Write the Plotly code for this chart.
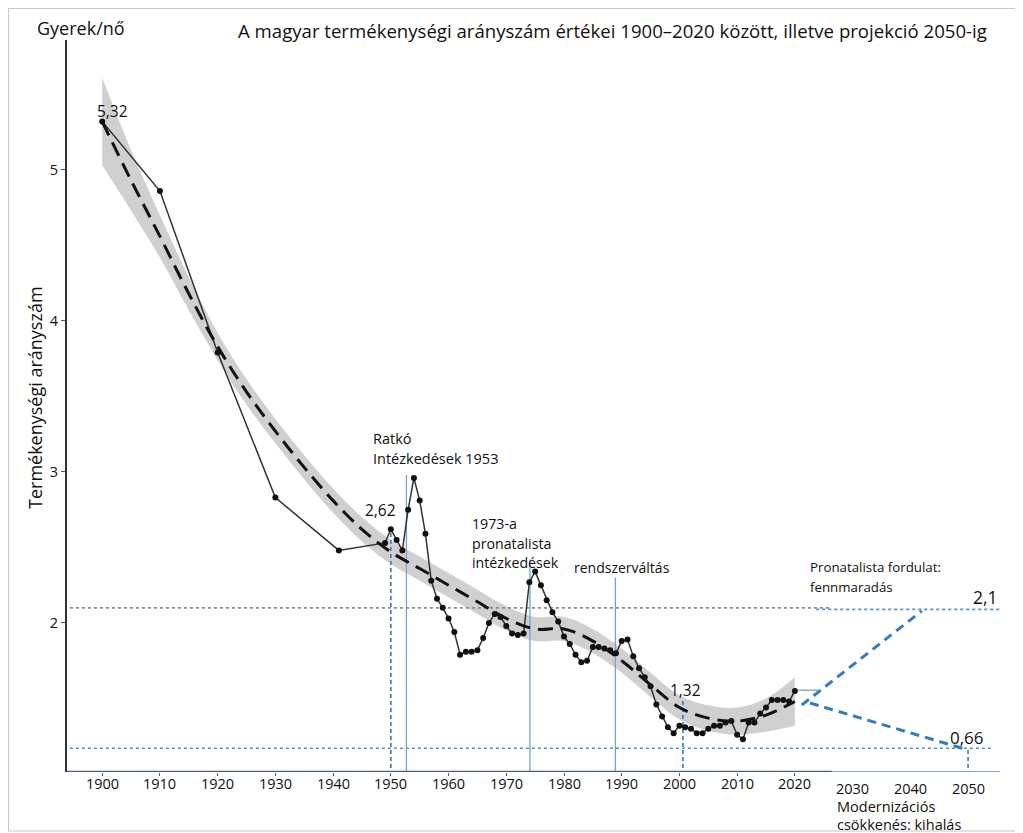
import plotly.graph_objects as go

# ---------------- data ----------------
years = [1900, 1910, 1920, 1930, 1941, 1949, 1950, 1951, 1952, 1953, 1954, 1955,
         1956, 1957, 1958, 1959, 1960, 1961, 1962, 1963, 1964, 1965, 1966, 1967,
         1968, 1969, 1970, 1971, 1972, 1973, 1974, 1975, 1976, 1977, 1978, 1979,
         1980, 1981, 1982, 1983, 1984, 1985, 1986, 1987, 1988, 1989, 1990, 1991,
         1992, 1993, 1994, 1995, 1996, 1997, 1998, 1999, 2000, 2001, 2002, 2003,
         2004, 2005, 2006, 2007, 2008, 2009, 2010, 2011, 2012, 2013, 2014, 2015,
         2016, 2017, 2018, 2019, 2020]
tfr = [5.32, 4.86, 3.79, 2.83, 2.48, 2.53, 2.62, 2.55, 2.48, 2.75, 2.96, 2.81,
       2.59, 2.28, 2.16, 2.10, 2.03, 1.94, 1.79, 1.81, 1.81, 1.82, 1.90, 2.00,
       2.06, 2.04, 1.98, 1.93, 1.92, 1.93, 2.27, 2.34, 2.25, 2.15, 2.07, 2.01,
       1.91, 1.86, 1.79, 1.74, 1.75, 1.84, 1.84, 1.83, 1.82, 1.80, 1.88, 1.89,
       1.78, 1.70, 1.64, 1.58, 1.46, 1.38, 1.31, 1.27, 1.32, 1.31, 1.30, 1.27,
       1.27, 1.30, 1.32, 1.32, 1.34, 1.35, 1.26, 1.23, 1.34, 1.34, 1.40, 1.44,
       1.49, 1.49, 1.49, 1.48, 1.55]

smooth_years = [1900, 1905, 1910, 1915, 1920, 1925, 1930, 1935, 1940, 1945, 1950,
                1955, 1960, 1965, 1970, 1975, 1980, 1985, 1990, 1995, 2000, 2005,
                2010, 2015, 2020]
smooth_tfr = [5.32, 4.93, 4.56, 4.18, 3.83, 3.53, 3.27, 3.03, 2.81, 2.62, 2.47,
              2.36, 2.25, 2.14, 2.03, 1.96, 1.96, 1.88, 1.75, 1.59, 1.44, 1.37,
              1.35, 1.39, 1.48]
smooth_half = [0.29, 0.20, 0.14, 0.11, 0.09, 0.085, 0.08, 0.08, 0.08, 0.08, 0.08,
               0.08, 0.08, 0.08, 0.08, 0.08, 0.08, 0.08, 0.08, 0.08, 0.08, 0.085,
               0.09, 0.11, 0.16]

event_years = [1952.7, 1974.1, 1988.9]          # solid blue markers
event_tops = [2.98, 2.42, 2.30]
marker_years = [1950, 2000.6, 2050]             # dashed blue drops
marker_tops = [2.62, 1.49, 1.17]

replacement_level = 2.1
extinction_level = 1.17                          # schematic level of the 0,66 line

proj_up_x = [2021.2, 2042.0]
proj_up_y = [1.457, 2.08]
proj_down_x = [2022.6, 2049.0]
proj_down_y = [1.47, 1.17]
proj_hold_x = [2020.6, 2024.0]
proj_hold_y = [1.555, 1.555]

x_ticks = [1900, 1910, 1920, 1930, 1940, 1950, 1960, 1970, 1980, 1990, 2000, 2010, 2020]
x_ticks_future = [2030, 2040, 2050]
y_ticks = [2, 3, 4, 5]

# ---------------- layout (page pixel geometry) ----------------
XMIN, XMAX = 1893.9, 2056.4
YMIN, YMAX = 1.013, 5.86
PAGE_OFF = 8                       # default body margin of the html page
PL, PR, PT, PB = 67, 1005, 40, 772  # plot area in page pixels
W, H = 1023 - PAGE_OFF, 833 - PAGE_OFF


def px_x(px):
    return XMIN + (px - PL) / (PR - PL) * (XMAX - XMIN)


def px_y(py):
    return YMAX - (py - PT) / (PB - PT) * (YMAX - YMIN)


def pap_x(px):
    return (px - PL) / (PR - PL)


def pap_y(py):
    return (PB - py) / (PB - PT)


FONT = "Open Sans"
BLUE = "#4f92d0"
BLUE_D = "#2f7bc4"
LIGHT_BLUE = "#6fa6da"

fig = go.Figure()

# ribbon
upper = [v + h for v, h in zip(smooth_tfr, smooth_half)]
lower = [v - h for v, h in zip(smooth_tfr, smooth_half)]
fig.add_trace(go.Scatter(x=smooth_years, y=upper, mode="lines",
                         line=dict(width=0, shape="spline"), hoverinfo="skip",
                         showlegend=False))
fig.add_trace(go.Scatter(x=smooth_years, y=lower, mode="lines",
                         line=dict(width=0, shape="spline"), fill="tonexty",
                         fillcolor="rgba(200,200,200,0.85)", hoverinfo="skip",
                         showlegend=False))

# reference horizontal lines
fig.add_trace(go.Scatter(x=[XMIN + 0.5, 2026.4], y=[replacement_level] * 2, mode="lines",
                         line=dict(color="#8a8a8a", width=1.6, dash="dot"),
                         showlegend=False, hoverinfo="skip"))
fig.add_trace(go.Scatter(x=[2023.7, 2055.5], y=[replacement_level - 0.01] * 2, mode="lines",
                         line=dict(color=BLUE, width=1.6, dash="dot"),
                         showlegend=False, hoverinfo="skip"))
fig.add_trace(go.Scatter(x=[XMIN + 0.5, 2054.5], y=[extinction_level] * 2, mode="lines",
                         line=dict(color=BLUE, width=1.6, dash="dot"),
                         showlegend=False, hoverinfo="skip"))

# vertical event lines
for xv, top in zip(event_years, event_tops):
    fig.add_trace(go.Scatter(x=[xv, xv], y=[YMIN, top], mode="lines",
                             line=dict(color=LIGHT_BLUE, width=1.3),
                             showlegend=False, hoverinfo="skip"))
for xv, top in zip(marker_years, marker_tops):
    fig.add_trace(go.Scatter(x=[xv, xv], y=[YMIN - 0.02, top], mode="lines",
                             line=dict(color=BLUE_D, width=1.6, dash="4px,3px"),
                             showlegend=False, hoverinfo="skip", cliponaxis=False))

# observed data
fig.add_trace(go.Scatter(x=years, y=tfr, mode="lines+markers",
                         line=dict(color="#333333", width=1.5),
                         marker=dict(color="#111111", size=6),
                         showlegend=False))

# smooth trend
fig.add_trace(go.Scatter(x=smooth_years, y=smooth_tfr, mode="lines",
                         line=dict(color="#111111", width=3, dash="15px,8px", shape="spline"),
                         showlegend=False, hoverinfo="skip"))

# projections
fig.add_trace(go.Scatter(x=proj_hold_x, y=proj_hold_y, mode="lines",
                         line=dict(color=LIGHT_BLUE, width=1.3),
                         showlegend=False, hoverinfo="skip"))
fig.add_trace(go.Scatter(x=proj_up_x, y=proj_up_y, mode="lines",
                         line=dict(color=BLUE_D, width=3, dash="9px,6px"),
                         showlegend=False, hoverinfo="skip"))
fig.add_trace(go.Scatter(x=proj_down_x, y=proj_down_y, mode="lines",
                         line=dict(color=BLUE_D, width=3, dash="9px,6px"),
                         showlegend=False, hoverinfo="skip"))

# x axis line (dark part + blue extension)
fig.add_shape(type="line", xref="x", yref="y", x0=XMIN, x1=2026.4, y0=YMIN, y1=YMIN,
              line=dict(color="#4a5f78", width=2.5))
fig.add_shape(type="line", xref="x", yref="y", x0=2026.4, x1=2055.5, y0=YMIN, y1=YMIN,
              line=dict(color=BLUE, width=1.5))
# figure border
fig.add_shape(type="rect", xref="paper", yref="paper",
              x0=pap_x(PAGE_OFF + 0.5), x1=pap_x(1020), y0=pap_y(831), y1=pap_y(PAGE_OFF + 0.5),
              line=dict(color="#c8c8c8", width=1.2))

ann = []


def text_d(x, y, s, size=14, xanchor="left", yanchor="middle"):
    ann.append(dict(x=x, y=y, xref="x", yref="y", text=s, showarrow=False,
                    xanchor=xanchor, yanchor=yanchor,
                    font=dict(family=FONT, size=size, color="#111111")))


def text_p(px, py, s, size=14, xanchor="left", yanchor="middle", angle=0):
    ann.append(dict(x=pap_x(px), y=pap_y(py), xref="paper", yref="paper", text=s,
                    showarrow=False, xanchor=xanchor, yanchor=yanchor, textangle=angle,
                    font=dict(family=FONT, size=size, color="#111111")))


text_p(35, 28, "Gyerek/nő", size=18)
text_p(236, 30, "A magyar termékenységi arányszám értékei 1900–2020 között, illetve projekció 2050-ig", size=18.6)
text_p(35, 398, "Termékenységi arányszám", size=18, xanchor="center", angle=-90)
text_p(112, 111, "5,32", size=15.5, xanchor="center")
text_p(380, 510, "2,62", size=15.5, xanchor="center")
text_p(685, 690, "1,32", size=15.5, xanchor="center")
text_p(371, 438, "Ratkó", size=14.5)
text_p(371, 458, "Intézkedések 1953", size=14.5)
text_p(470, 523, "1973-a", size=14.2)
text_p(470, 543, "pronatalista", size=14.2)
text_p(470, 562, "intézkedések", size=14.2)
text_p(572, 567, "rendszerváltás", size=14)
text_p(808, 567, "Pronatalista fordulat:", size=13.3)
text_p(808, 587, "fennmaradás", size=13.3)
text_p(985, 597, "2,1", size=17.5, xanchor="center")
text_p(967, 737, "0,66", size=17, xanchor="center")
text_p(835, 806, "Modernizációs", size=14.5)
text_p(835, 825, "csökkenés: kihalás", size=14.5)
for t in x_ticks:
    ann.append(dict(x=t, y=pap_y(783), xref="x", yref="paper", text=str(t), showarrow=False,
                    xanchor="center", yanchor="middle",
                    font=dict(family=FONT, size=14.5, color="#111111")))
for t in x_ticks_future:
    ann.append(dict(x=t, y=pap_y(788), xref="x", yref="paper", text=str(t), showarrow=False,
                    xanchor="center", yanchor="middle",
                    font=dict(family=FONT, size=14.5, color="#111111")))

fig.update_layout(
    width=W, height=H,
    margin=dict(l=PL - PAGE_OFF, r=1023 - PR, t=PT - PAGE_OFF, b=833 - PB),
    paper_bgcolor="white", plot_bgcolor="white",
    showlegend=False,
    annotations=ann,
    font=dict(family=FONT, size=14, color="#111111"),
    xaxis=dict(range=[XMIN, XMAX], showgrid=False, zeroline=False, showline=False,
               tickvals=x_ticks, showticklabels=False,
               ticks="outside", ticklen=3, tickcolor="#4a5f78", tickwidth=1),
    yaxis=dict(range=[YMIN, YMAX], showgrid=False, zeroline=False, showline=True,
               linecolor="#333333", linewidth=2,
               tickvals=y_ticks, ticktext=[str(t) for t in y_ticks],
               ticks="outside", ticklen=4, tickcolor="#555555",
               tickfont=dict(family=FONT, size=14.5, color="#111111")),
)

fig.write_html("out.html")
